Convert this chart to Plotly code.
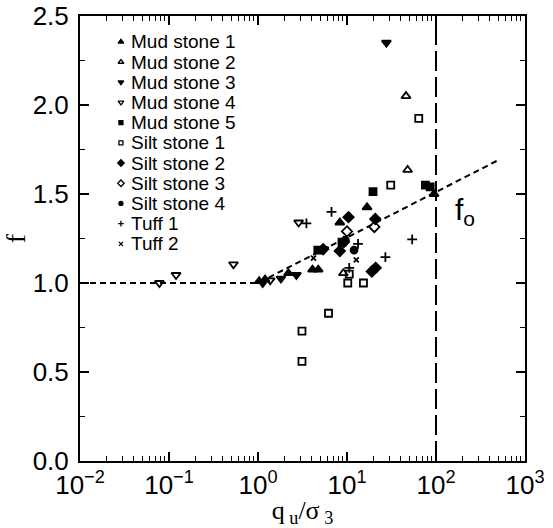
import plotly.graph_objects as go

# ---- data: f versus q_u / sigma_3 for each rock type ----
mud1_x = [1.03, 1.2, 2.2, 4.1, 4.75, 8.3, 16.8, 95]
mud1_y = [1.01, 1.02, 1.055, 1.075, 1.075, 1.34, 1.425, 1.50]

mud2_x = [9.1, 48, 46]
mud2_y = [1.055, 1.635, 2.05]

mud3_x = [1.13, 1.81, 2.7, 5.5, 27.7]
mud3_y = [1.0, 1.025, 1.045, 1.19, 2.35]

mud4_x = [0.078, 0.12, 0.53, 1.37, 2.86]
mud4_y = [1.0, 1.045, 1.105, 1.015, 1.34]

mud5_x = [4.7, 8.8, 19.6, 76, 86]
mud5_y = [1.185, 1.23, 1.513, 1.55, 1.54]

silt1_x = [3.12, 3.12, 6.2, 10.2, 15.3, 10.6, 31, 64]
silt1_y = [0.73, 0.56, 0.83, 1.0, 1.0, 1.05, 1.55, 1.925]

silt2_x = [5.4, 8.3, 9.2, 10.4, 20.8, 19, 21]
silt2_y = [1.19, 1.18, 1.23, 1.37, 1.36, 1.065, 1.085]

silt3_x = [10, 20.3]
silt3_y = [1.29, 1.315]

silt4_x = [12, 9.6]
silt4_y = [1.185, 1.24]

tuff1_x = [3.5, 6.7, 13.3, 10.6, 27, 54]
tuff1_y = [1.335, 1.40, 1.22, 1.085, 1.145, 1.245]

tuff2_x = [4.2, 12.7]
tuff2_y = [1.14, 1.13]

# bilinear trend: f = 1 below q_u/sigma_3 = 1, rising log-linearly above
trend_x = [0.01, 1, 500]
trend_y = [1.0, 1.0, 1.69]

# limit q_u/sigma_3 = 100 (vertical dashed line)
limit_x = [100, 100]
limit_y = [0, 2.5]

x_ticks = [0.01, 0.1, 1, 10, 100, 1000]
x_tick_labels = ["10<sup>−2</sup>", "10<sup>−1</sup>", "10<sup>0</sup>",
                 "10<sup>1</sup>", "10<sup>2</sup>", "10<sup>3</sup>"]
y_ticks = [0.0, 0.5, 1.0, 1.5, 2.0, 2.5]

series = [
    ("Mud stone 1", mud1_x, mud1_y, "triangle-up", 8),
    ("Mud stone 2", mud2_x, mud2_y, "triangle-up-open", 8),
    ("Mud stone 3", mud3_x, mud3_y, "triangle-down", 8),
    ("Mud stone 4", mud4_x, mud4_y, "triangle-down-open", 8),
    ("Mud stone 5", mud5_x, mud5_y, "square", 7),
    ("Silt stone 1", silt1_x, silt1_y, "square-open", 7),
    ("Silt stone 2", silt2_x, silt2_y, "diamond", 8),
    ("Silt stone 3", silt3_x, silt3_y, "diamond-open", 8),
    ("Silt stone 4", silt4_x, silt4_y, "circle", 7),
    ("Tuff 1", tuff1_x, tuff1_y, "cross-thin-open", 7),
    ("Tuff 2", tuff2_x, tuff2_y, "x-thin-open", 5),
]

fig = go.Figure()

fig.add_trace(go.Scatter(x=trend_x, y=trend_y, mode="lines",
                         line=dict(color="black", width=2, dash="6px,4px"),
                         showlegend=False, hoverinfo="skip"))
fig.add_trace(go.Scatter(x=limit_x, y=limit_y, mode="lines",
                         line=dict(color="black", width=2, dash="20px,6px"),
                         showlegend=False, hoverinfo="skip"))

for name, xs, ys, sym, size in series:
    fig.add_trace(go.Scatter(
        x=xs, y=ys, mode="markers", name=name, showlegend=False,
        marker=dict(symbol=sym, size=size, color="black",
                    line=dict(color="black", width=1.8)),
    ))

# key: symbols on an overlay axis spanning [0, 1], labels as annotations
key_top = 0.942
key_step = 0.0454
key_sym_x = 0.092
key_text_x = 0.110
for i, (name, _, _, sym, size) in enumerate(series):
    ky = key_top - i * key_step
    fig.add_trace(go.Scatter(
        x=[key_sym_x], y=[ky], xaxis="x2", yaxis="y2", mode="markers",
        showlegend=False, hoverinfo="skip",
        marker=dict(symbol=sym, size=max(size - 3, 4), color="black",
                    line=dict(color="black", width=1.3)),
    ))
    fig.add_annotation(x=key_text_x, y=ky, xref="paper", yref="paper",
                       text=name, showarrow=False, xanchor="left",
                       yanchor="middle",
                       font=dict(family="Liberation Sans, Arial", size=19,
                                 color="black"))

# f_o label next to the intersection
fig.add_annotation(x=2.19, y=1.40, xref="x", yref="y", text="f<sub>o</sub>",
                   showarrow=False, xanchor="left", yanchor="middle",
                   font=dict(family="Liberation Sans, Arial", size=30,
                             color="black"))

axis_common = dict(
    showline=True, linecolor="black", linewidth=2, mirror="allticks",
    ticks="inside", tickcolor="black", tickwidth=1.5, ticklen=9,
    showgrid=False, zeroline=False, automargin=False,
    tickfont=dict(family="Liberation Sans, Arial", size=26, color="black"),
)

fig.update_layout(
    width=553, height=528,
    margin=dict(l=80, r=28, t=16, b=67),
    paper_bgcolor="white", plot_bgcolor="white",
    showlegend=False,
    xaxis=dict(type="log", range=[-2, 3], tickvals=x_ticks,
               ticktext=x_tick_labels, ticklabelstandoff=0,
               minor=dict(ticks="inside", ticklen=5, tickcolor="black",
                          tickwidth=1, dtick="D1", showgrid=False),
               title=dict(text="q<sub> u</sub>/σ<sub> 3</sub>", standoff=2,
                          font=dict(family="Liberation Serif, Times New Roman",
                                    size=26, color="black")),
               **axis_common),
    yaxis=dict(range=[0, 2.5], tickvals=y_ticks, tickformat=".1f",
               ticklabelstandoff=4,
               minor=dict(ticks="inside", ticklen=5, tickcolor="black",
                          tickwidth=1, dtick=0.25, showgrid=False),
               title=dict(text="f", standoff=6,
                          font=dict(family="Liberation Serif, Times New Roman",
                                    size=28, color="black")),
               **axis_common),
    xaxis2=dict(overlaying="x", range=[0, 1], visible=False, fixedrange=True),
    yaxis2=dict(overlaying="y", range=[0, 1], visible=False, fixedrange=True),
)

fig.write_html("out.html")
